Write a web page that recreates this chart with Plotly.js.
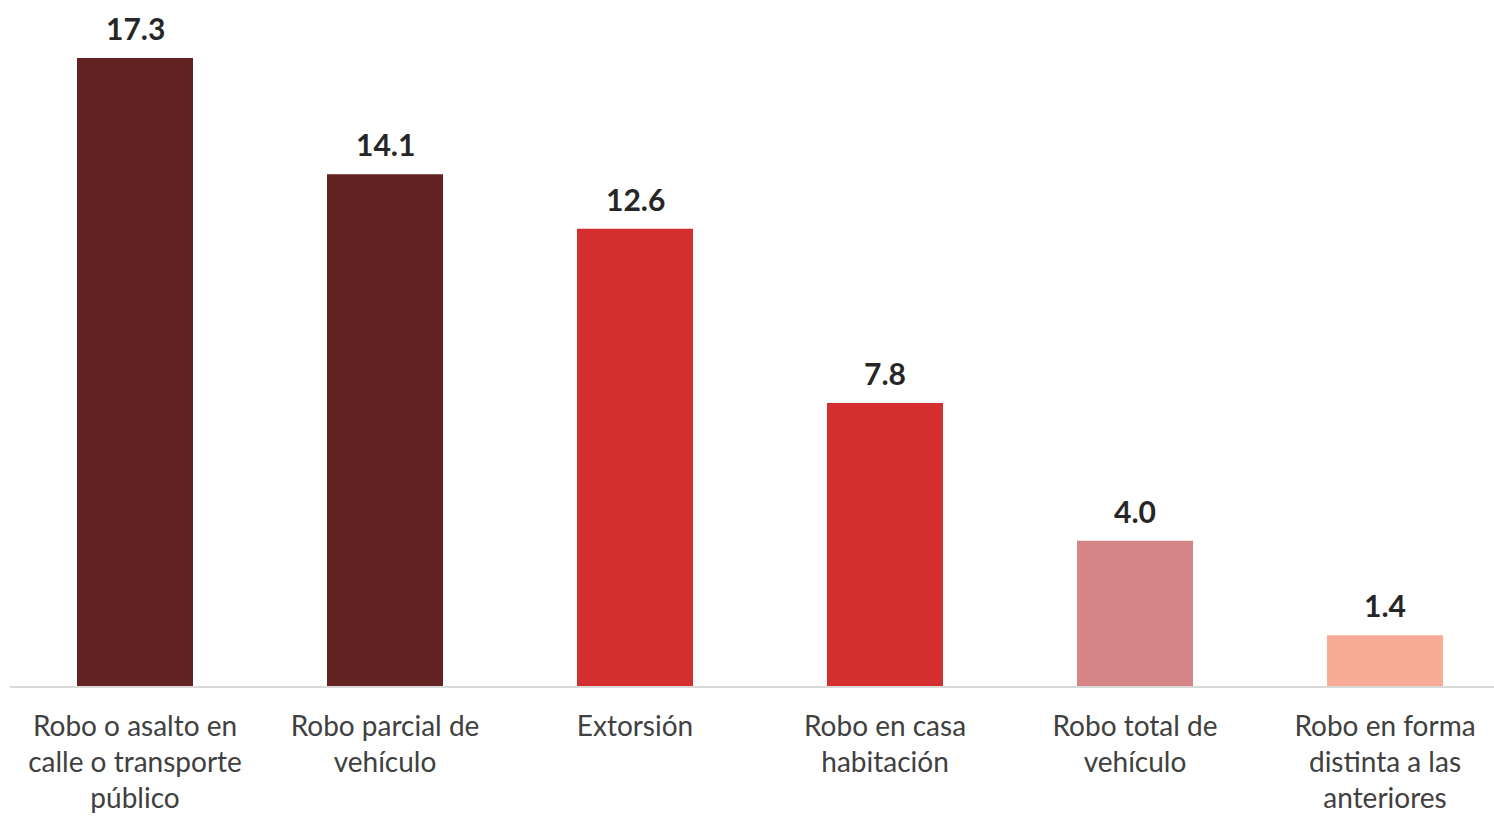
<!DOCTYPE html>
<html>
<head>
<meta charset="utf-8">
<script src="https://cdn.plot.ly/plotly-3.0.1.min.js"></script>
<style>html,body{margin:0;padding:0;background:#fff;overflow:hidden}#chart{width:1494px;height:817px}</style>
</head>
<body>
<div id="chart"></div>
<script>
const categories = [
  "Robo o asalto en<br>calle o transporte<br>público",
  "Robo parcial de<br>vehículo",
  "Extorsión",
  "Robo en casa<br>habitación",
  "Robo total de<br>vehículo",
  "Robo en forma<br>distinta a las<br>anteriores"
];
const values = [17.3, 14.1, 12.6, 7.8, 4.0, 1.4];
const barColors = ["#632323", "#632323", "#D52E2E", "#D52E2E", "#D58586", "#F8AB95"];

const trace = {
  type: "bar",
  x: categories,
  y: values,
  marker: {color: barColors, line: {width: 0}},
  width: 0.464,
  hoverinfo: "skip"
};

const annotations = categories.map((c, i) => ({
  x: c,
  y: values[i],
  xref: "x",
  yref: "y",
  text: "<b>" + values[i].toFixed(1) + "</b>",
  showarrow: false,
  yanchor: "bottom",
  yshift: 10,
  font: {family: "Lato, sans-serif", size: 30, color: "#262626"}
}));

const layout = {
  width: 1494,
  height: 817,
  margin: {l: 10, r: 0, t: 0, b: 131},
  paper_bgcolor: "#ffffff",
  plot_bgcolor: "#ffffff",
  showlegend: false,
  font: {family: "Lato, sans-serif"},
  annotations: annotations,
  xaxis: {
    type: "category",
    range: [-0.5, 5.436],
    showline: true,
    linecolor: "#D9D9D9",
    linewidth: 2,
    ticks: "",
    showgrid: false,
    zeroline: false,
    tickfont: {family: "Lato, sans-serif", size: 28, color: "#404040"},
    ticklabelstandoff: 14,
    automargin: false
  },
  yaxis: {
    range: [0, 18.9],
    visible: false,
    showgrid: false,
    zeroline: false,
    fixedrange: true
  }
};

Plotly.newPlot("chart", [trace], layout, {displayModeBar: false, staticPlot: true});
</script>
</body>
</html>
